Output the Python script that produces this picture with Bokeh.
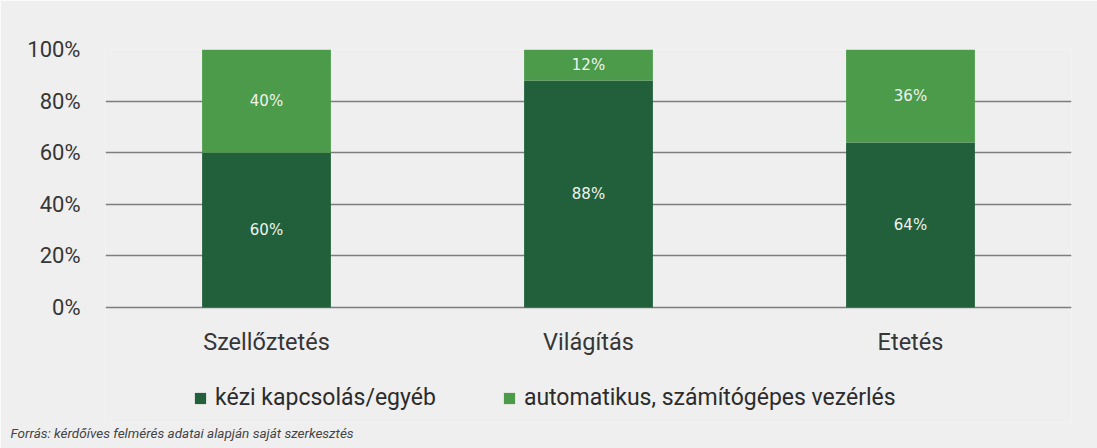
from bokeh.plotting import figure
from bokeh.models import (ColumnDataSource, FactorRange, Range1d, FixedTicker, Legend,
                          LegendItem, LabelSet, Title)
from bokeh.core.properties import value
from bokeh.embed import file_html
from bokeh.resources import INLINE

# ---- data ----
categories = ["Szellőztetés", "Világítás", "Etetés"]
manual = [60, 88, 64]          # kézi kapcsolás/egyéb
automatic = [40, 12, 36]       # automatikus, számítógépes vezérlés
series_names = ["kézi kapcsolás/egyéb", "automatikus, számítógépes vezérlés"]
y_ticks = [0, 20, 40, 60, 80, 100]
y_tick_labels = ["0%", "20%", "40%", "60%", "80%", "100%"]
source_note = "Forrás: kérdőíves felmérés adatai alapján saját szerkesztés"

DARK = "#22603b"
LIGHT = "#4c9b4b"
BG = "#efefef"
FONT = "Roboto"
TXT = "#363636"

# layout (pixels)
W, H = 1097, 448
FR_LEFT, FR_RIGHT, FR_TOP = 105, 1071, 49
ZERO_Y, FR_BOTTOM = 307, 422          # pixel row of the 0% line, bottom of drawing area
px_per_unit = (ZERO_Y - FR_TOP) / 100.0
y_start = -(FR_BOTTOM - ZERO_Y) / px_per_unit

src = ColumnDataSource(dict(
    cat=categories,
    base=[0] * len(categories),
    top1=manual,
    top2=[m + a for m, a in zip(manual, automatic)],
    mid1=[m / 2 for m in manual],
    mid2=[m + a / 2 for m, a in zip(manual, automatic)],
    lab1=[f"{v}%" for v in manual],
    lab2=[f"{v}%" for v in automatic],
))

p = figure(width=W, height=H, x_range=FactorRange(*categories, range_padding=0),
           y_range=Range1d(y_start, 100), output_backend="svg", toolbar_location=None,
           min_border_left=FR_LEFT, min_border_right=W - FR_RIGHT, min_border_top=FR_TOP,
           min_border_bottom=H - FR_BOTTOM,
           background_fill_color=BG, border_fill_color=BG, outline_line_color=None)

r1 = p.vbar(x="cat", bottom="base", top="top1", width=0.4, source=src, color=DARK, line_color=None)
r2 = p.vbar(x="cat", bottom="top1", top="top2", width=0.4, source=src, color=LIGHT, line_color=None)

for col_y, col_t in (("mid1", "lab1"), ("mid2", "lab2")):
    p.add_layout(LabelSet(x="cat", y=col_y, text=col_t, source=src, text_align="center",
                          text_baseline="middle", text_color="#eef3ee",
                          text_font=value("DejaVu Sans"), text_font_size="15px"))

# category labels under the baseline
p.add_layout(LabelSet(x="cat", y="base", text="cat", source=src, y_offset=-34,
                      text_align="center", text_baseline="middle", text_color=TXT,
                      text_font=value(FONT), text_font_size="23.5px"))

# grid
p.xgrid.grid_line_color = None
p.ygrid.ticker = FixedTicker(ticks=y_ticks)
p.ygrid.grid_line_color = "#7d7d7d"
p.ygrid.grid_line_width = 1.5
p.ygrid.level = "underlay"

# y axis
p.yaxis.ticker = FixedTicker(ticks=y_ticks)
p.yaxis.major_label_overrides = {t: l for t, l in zip(y_ticks, y_tick_labels)}
p.yaxis.axis_line_color = None
p.yaxis.major_tick_line_color = None
p.yaxis.major_tick_out = 0
p.yaxis.major_tick_in = 0
p.yaxis.minor_tick_line_color = None
p.yaxis.major_label_standoff = 25
p.yaxis.major_label_text_font = FONT
p.yaxis.major_label_text_font_size = "22px"
p.yaxis.major_label_text_color = TXT

p.xaxis.visible = False

# legend
legend = Legend(items=[LegendItem(label=series_names[0], renderers=[r1]),
                       LegendItem(label=series_names[1], renderers=[r2])],
                location=(88, 11), orientation="horizontal",
                glyph_width=14, glyph_height=14, label_standoff=8, spacing=66,
                padding=0, margin=0, border_line_color=None, background_fill_alpha=0,
                label_text_font=FONT, label_text_font_size="23px",
                label_text_color="#2c2c2c", label_height=26)
p.add_layout(legend, "center")

note = Title(text=source_note, align="left", offset=-95, standoff=0,
             text_font=FONT, text_font_style="italic", text_font_size="13.5px",
             text_color="#444444")
p.add_layout(note, "below")

open("out.html", "w").write(file_html(p, INLINE))
